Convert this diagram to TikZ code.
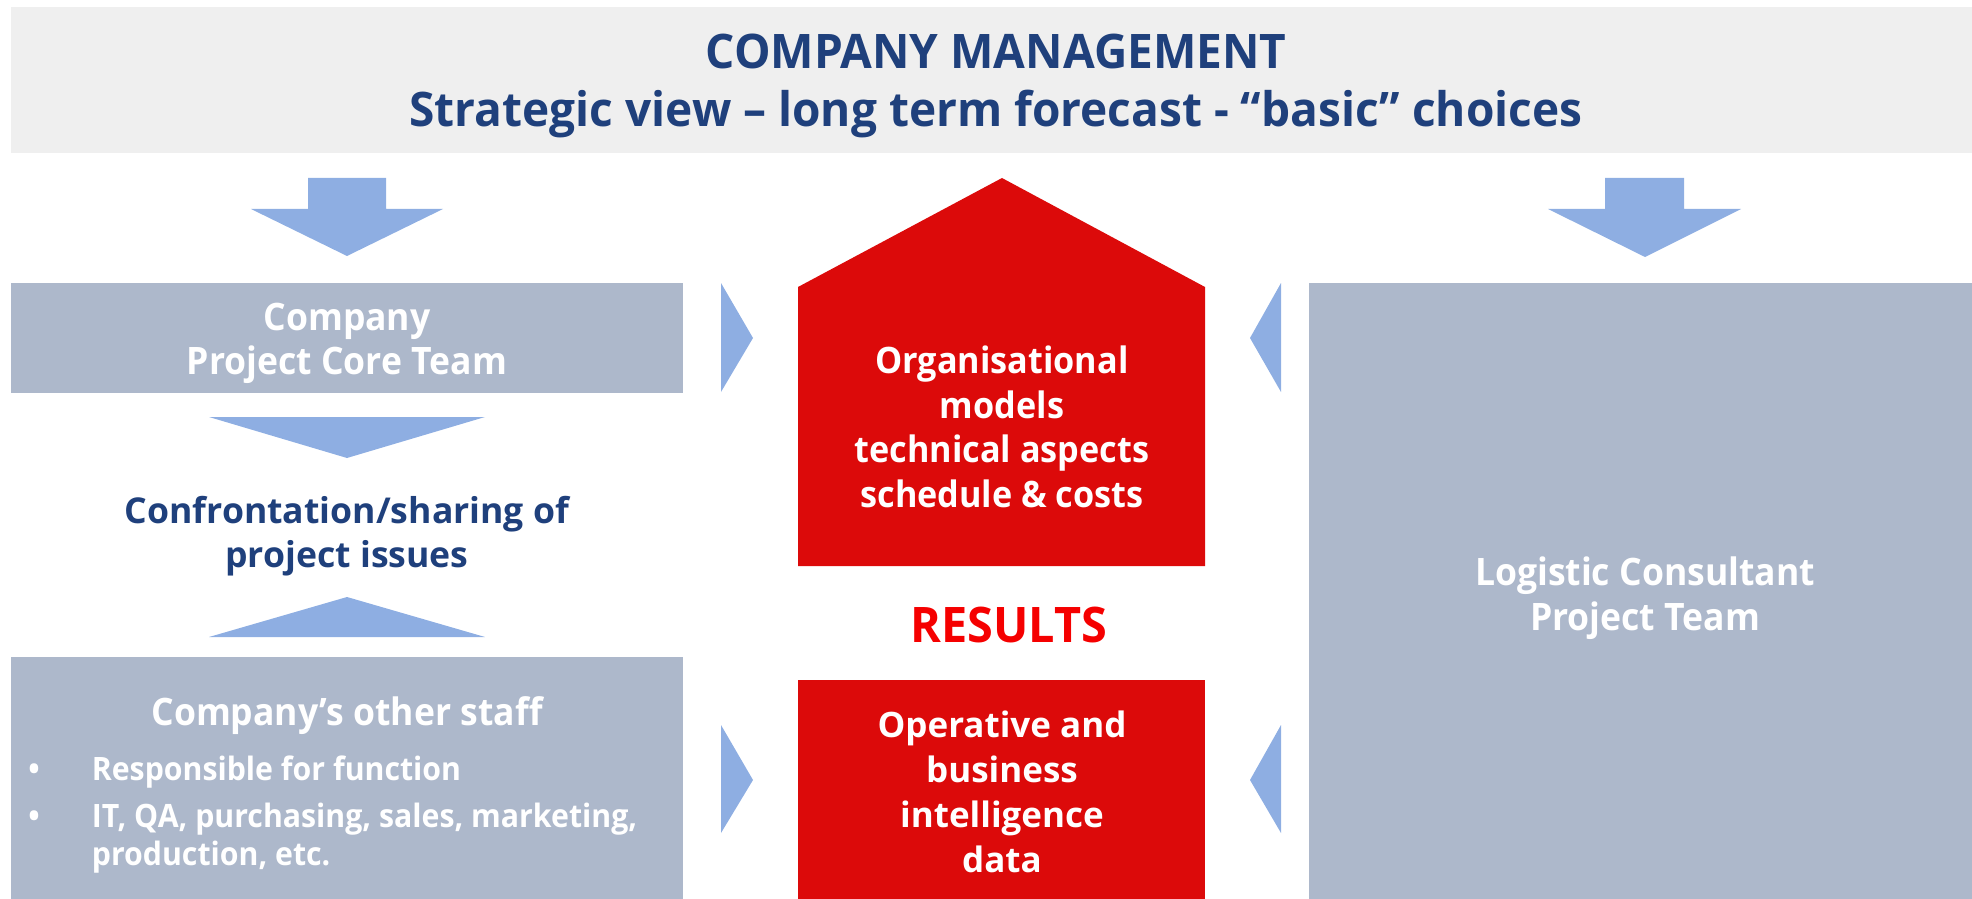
\documentclass[tikz,border=0pt]{standalone}
\usepackage{fontspec}
\setmainfont{Open Sans}
\newfontfamily\titlefont{Open Sans}[FakeStretch=0.967]
\newfontfamily\condfont{Open Sans}[FakeStretch=0.94]
\newfontfamily\resfont{Open Sans}[FakeStretch=0.955]
\definecolor{bannergray}{RGB}{239,239,239}
\definecolor{navy}{RGB}{31,64,124}
\definecolor{arrowblue}{RGB}{142,174,226}
\definecolor{boxgray}{RGB}{173,184,203}
\definecolor{boxred}{RGB}{220,10,10}
\definecolor{resred}{RGB}{245,0,0}
\tikzset{
  pane/.style={fill=boxgray},
  redpane/.style={fill=boxred},
  bluearrow/.style={fill=arrowblue},
  lbl/.style={inner sep=0pt, anchor=base, align=center},
}
\begin{document}
\begin{tikzpicture}[x=0.5pt,y=-0.5pt]
\useasboundingbox (0,0) rectangle (1972,899);
% banner
\fill[bannergray] (11,7) rectangle (1972,153);
\node[lbl, text=navy, font=\titlefont\bfseries\fontsize{23.8pt}{29pt}\selectfont] (title) at (996,127)
  {COMPANY MANAGEMENT\\Strategic view – long term forecast - “basic” choices};
% down arrows
\fill[bluearrow] (308,178) -- (386,178) -- (386,209) -- (443,209) -- (347,256) -- (251,209) -- (308,209) -- cycle;
\fill[bluearrow] (1605,178) -- (1684,178) -- (1684,209) -- (1741,209) -- (1645,257) -- (1548,209) -- (1605,209) -- cycle;
% left column
\fill[pane] (11,283) rectangle (683,393);
\node[lbl, text=white, font=\condfont\bfseries\fontsize{18.9pt}{22pt}\selectfont] (core) at (347,374)
  {Company\\Project Core Team};
\fill[bluearrow] (209,417) -- (485,417) -- (347,458) -- cycle;
\node[lbl, text=navy, font=\bfseries\fontsize{17.8pt}{22pt}\selectfont] (share) at (347,567)
  {Confrontation/sharing of\\project issues};
\fill[bluearrow] (209,637) -- (485,637) -- (347,597) -- cycle;
\fill[pane] (11,657) rectangle (683,899);
\node[lbl, text=white, font=\condfont\bfseries\fontsize{18.9pt}{22pt}\selectfont] (staff) at (347,725)
  {Company’s other staff};
\node[inner sep=0pt, anchor=base west, align=left, text=white, font=\condfont\bfseries\fontsize{16.1pt}{19pt}\selectfont] (bullets) at (28,865)
  {\makebox[31.75pt][l]{•}Responsible for function\\[4.5pt]
   \makebox[31.75pt][l]{•}IT, QA, purchasing, sales, marketing,\\
   \hspace*{31.75pt}production, etc.};
% center column
\fill[redpane] (798,287) -- (1002,178) -- (1205,287) -- (1205,566) -- (798,566) -- cycle;
\node[lbl, text=white, font=\condfont\bfseries\fontsize{18.2pt}{22.2pt}\selectfont] (models) at (1002,507)
  {Organisational\\models\\technical aspects\\schedule \& costs};
\node[lbl, text=resred, font=\resfont\bfseries\fontsize{24.5pt}{29pt}\selectfont] (results) at (1009,642) {RESULTS};
\fill[redpane] (798,680) rectangle (1205,899);
\node[lbl, text=white, font=\bfseries\fontsize{17.5pt}{22.5pt}\selectfont] (data) at (1002,872)
  {Operative and\\business\\intelligence\\data};
% side triangles
\fill[bluearrow] (721,283) -- (753,338) -- (721,392) -- cycle;
\fill[bluearrow] (721,725) -- (753,780) -- (721,833) -- cycle;
\fill[bluearrow] (1281,283) -- (1250,338) -- (1281,392) -- cycle;
\fill[bluearrow] (1281,725) -- (1250,780) -- (1281,833) -- cycle;
% right column
\fill[pane] (1309,283) rectangle (1972,899);
\node[lbl, text=white, font=\condfont\bfseries\fontsize{18.9pt}{22.5pt}\selectfont] (consult) at (1645,630)
  {Logistic Consultant\\Project Team};
\end{tikzpicture}
\end{document}
